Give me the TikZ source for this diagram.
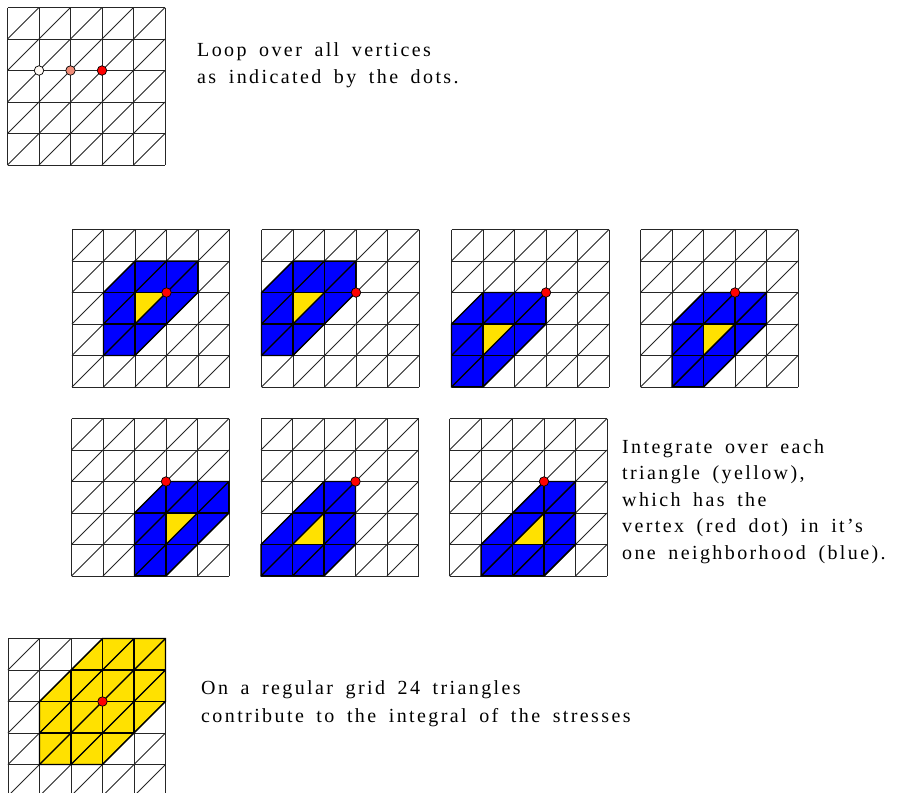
\documentclass[tikz,border=0pt]{standalone}
\usepackage{fontspec}
\setmainfont{Liberation Serif}
\newfontfamily\captfont[LetterSpace=12, WordSpace=1.7]{Liberation Serif}
\definecolor{meshblue}{RGB}{0,0,255}
\definecolor{meshyellow}{RGB}{255,225,0}
\definecolor{dotred}{RGB}{255,0,0}
\definecolor{dotpink}{RGB}{240,140,120}
\definecolor{dotwhite}{RGB}{255,250,245}
\tikzset{
  gridline/.style={draw=black!85, line width=0.8pt},
  boldline/.style={draw=black, line width=1.4pt},
  vdot/.style={circle, draw=black, line width=0.7pt, inner sep=0pt, minimum size=9.5pt},
  caption/.style={anchor=base west, inner sep=0pt, font=\captfont\fontsize{20}{27}\selectfont},
}
\newcommand{\meshlines}[1]{%
  \foreach \k in {0,...,5}{\draw[#1] (\k,0) -- (\k,5); \draw[#1] (0,\k) -- (5,\k);}%
  \foreach \i in {0,...,4}{\foreach \j in {0,...,4}{\draw[#1] (\i,\j+1) -- (\i+1,\j);}}%
}
% #1 ox, #2 oy, #3 region colour, #4 region path, #5 triangle path, #6 dot name
\newcommand{\meshpanel}[6]{%
  \begin{scope}[shift={(#1pt,-#2pt)}, x=31.5pt, y=-31.5pt]
    \fill[#3] #4 -- cycle;
    \fill[meshyellow] #5 -- cycle;
    \meshlines{gridline}
    \begin{scope}
      \clip #4 -- cycle;
      \meshlines{boldline}
    \end{scope}
    \draw[boldline, line join=miter] #4 -- cycle;
    \node[vdot, fill=dotred] (#6) at (3,2) {};
  \end{scope}}
\begin{document}
\begin{tikzpicture}[x=1pt, y=-1pt]
  \useasboundingbox (0,0) rectangle (898,793);
  \clip (0,0) rectangle (898,793);
  \fill[white] (0,0) rectangle (898,793);
  % top: loop over vertices
  \begin{scope}[shift={(7.5pt,-7.5pt)}, x=31.5pt, y=-31.5pt]
    \meshlines{gridline}
    \node[vdot, fill=dotwhite] (dotw) at (1,2) {};
    \node[vdot, fill=dotpink] (dotp) at (2,2) {};
    \node[vdot, fill=dotred] (dotr) at (3,2) {};
  \end{scope}
  \node[caption] (loop1) at (197,56.5) {Loop over all vertices};
  \node[caption] (loop2) at (197,83) {as indicated by the dots.};
  % one-neighbourhood panels
  \meshpanel{72}{229.5}{meshblue}{(2,1)--(4,1)--(4,2)--(2,4)--(1,4)--(1,2)}{(2,2)--(3,2)--(2,3)}{dotA}
  \meshpanel{261.5}{229.5}{meshblue}{(1,1)--(3,1)--(3,2)--(1,4)--(0,4)--(0,2)}{(1,2)--(2,2)--(1,3)}{dotB}
  \meshpanel{451.5}{229.5}{meshblue}{(1,2)--(3,2)--(3,3)--(1,5)--(0,5)--(0,3)}{(1,3)--(2,3)--(1,4)}{dotC}
  \meshpanel{640.5}{229.5}{meshblue}{(2,2)--(4,2)--(4,3)--(2,5)--(1,5)--(1,3)}{(2,3)--(3,3)--(2,4)}{dotD}
  \meshpanel{71.5}{418.5}{meshblue}{(3,2)--(5,2)--(5,3)--(3,5)--(2,5)--(2,3)}{(3,3)--(4,3)--(3,4)}{dotE}
  \meshpanel{261}{418.5}{meshblue}{(2,2)--(3,2)--(3,4)--(2,5)--(0,5)--(0,4)}{(2,3)--(2,4)--(1,4)}{dotF}
  \meshpanel{449.5}{418.5}{meshblue}{(3,2)--(4,2)--(4,4)--(3,5)--(1,5)--(1,4)}{(3,3)--(3,4)--(2,4)}{dotG}
  \node[caption] (int1) at (622,453) {Integrate over each};
  \node[caption] (int2) at (622,479.5) {triangle (yellow),};
  \node[caption] (int3) at (622,506) {which has the};
  \node[caption] (int4) at (622,532.5) {vertex (red dot) in it’s};
  \node[caption] (int5) at (622,559) {one neighborhood (blue).};
  % bottom: 24 triangles
  \meshpanel{8}{638.5}{meshyellow}{(3,0)--(5,0)--(5,2)--(3,4)--(1,4)--(1,2)}{(3,0)--(5,0)--(5,2)--(3,4)--(1,4)--(1,2)}{dotH}
  \node[caption] (reg1) at (201,694) {On a regular grid 24 triangles};
  \node[caption] (reg2) at (201,722) {contribute to the integral of the stresses};
\end{tikzpicture}
\end{document}
